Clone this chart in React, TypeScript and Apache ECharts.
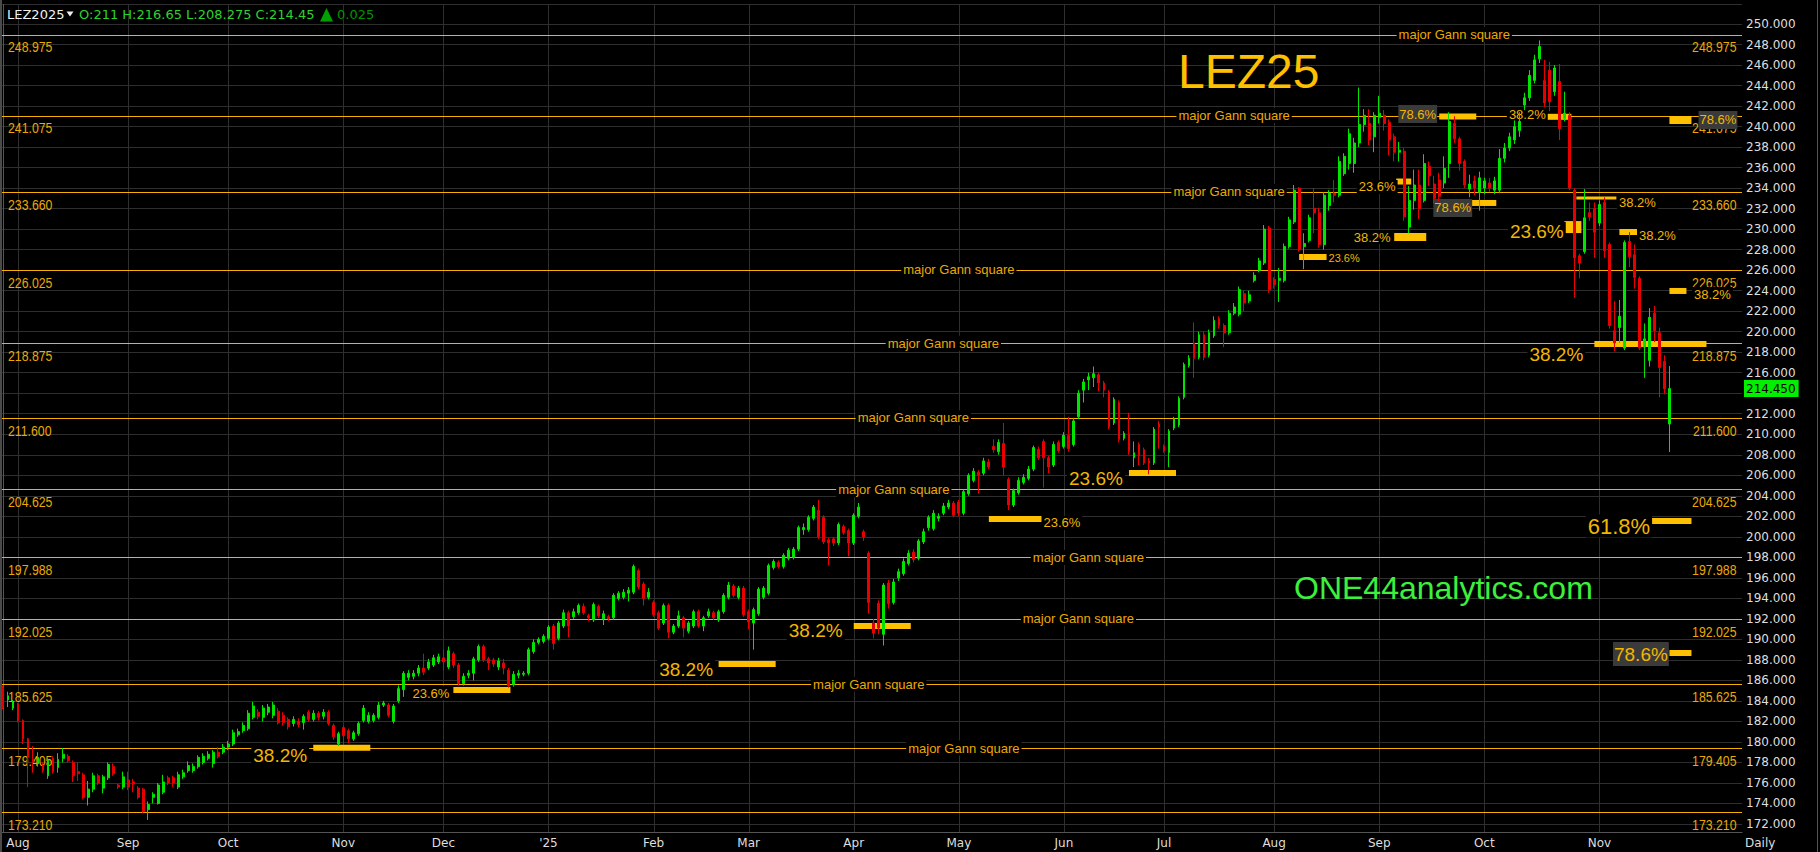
import React, { useEffect, useRef } from 'react';
import * as echarts from 'echarts';

// ---------- candles: [open, close, low, high] per trading day, grouped by month ----------
const jul24 = [
  [185.2, 183.5, 183.2, 185.5], [184.1, 184.5, 183.4, 184.9], [183.3, 183.9, 183.1, 184.1],
];
const aug24 = [
  [183.7, 182.1, 181.9, 183.8], [182.1, 180.3, 179.8, 182.2], [180.3, 178.5, 175.6, 180.4], [178.3, 178.0, 177.0, 179.6],
  [177.9, 178.5, 177.6, 179.0], [177.7, 177.2, 177.0, 178.0], [176.7, 178.2, 176.4, 178.4], [178.4, 177.1, 176.9, 178.6],
  [177.5, 178.3, 177.0, 178.9], [178.4, 178.8, 178.0, 179.4], [178.6, 178.2, 178.0, 178.8], [178.0, 176.7, 176.1, 178.2],
  [177.1, 176.9, 176.2, 178.0], [176.8, 174.6, 174.4, 177.0], [174.6, 175.4, 173.8, 176.2], [175.4, 176.7, 175.1, 177.0],
  [176.7, 176.0, 175.8, 176.9], [175.5, 176.6, 175.0, 176.8], [176.5, 177.8, 176.3, 178.0], [177.6, 176.9, 176.7, 177.9],
  [175.8, 175.6, 175.4, 175.9], [175.6, 176.6, 175.4, 177.1],
];
const sep24 = [
  [176.3, 175.6, 175.3, 177.1], [176.1, 175.9, 175.1, 176.4], [175.5, 174.6, 174.4, 175.7], [175.4, 173.2, 173.1, 175.5],
  [173.4, 173.9, 172.4, 174.2], [174.6, 174.9, 174.0, 175.1], [174.0, 175.8, 173.9, 176.0], [175.1, 176.1, 174.9, 176.8],
  [176.5, 176.0, 175.8, 176.7], [176.5, 176.0, 175.6, 176.7], [175.6, 176.8, 175.4, 177.1], [176.6, 177.0, 176.4, 177.3],
  [177.2, 177.7, 177.0, 178.1], [177.2, 177.6, 177.0, 177.9], [177.6, 178.5, 177.4, 178.7], [178.0, 178.6, 177.8, 178.9],
  [178.4, 178.8, 178.2, 179.1], [177.9, 179.0, 177.5, 179.2], [179.0, 178.6, 178.4, 179.5], [179.0, 179.5, 178.8, 179.8],
];
const oct24 = [
  [179.5, 179.8, 179.2, 180.1], [179.8, 180.9, 179.6, 181.2], [180.7, 181.0, 180.5, 181.3], [181.1, 181.6, 180.9, 181.9],
  [181.3, 182.8, 181.1, 183.1], [182.4, 183.5, 182.2, 183.9], [182.9, 182.5, 182.2, 183.2], [182.4, 183.3, 182.0, 183.6],
  [182.9, 183.4, 182.6, 183.7], [182.6, 183.6, 182.3, 183.9], [183.0, 181.9, 181.7, 183.3], [182.6, 181.9, 181.6, 182.9],
  [182.2, 181.5, 181.2, 182.4], [181.8, 182.2, 181.5, 182.5], [182.0, 181.7, 181.4, 182.3], [181.9, 182.5, 181.2, 182.7],
  [182.9, 182.2, 182.0, 183.1], [182.2, 182.8, 182.0, 183.1], [182.8, 182.4, 182.1, 183.0], [182.5, 182.9, 182.2, 183.2],
  [182.9, 181.8, 181.6, 183.1], [181.6, 180.5, 180.2, 181.8], [179.8, 180.8, 179.6, 181.0],
];
const nov24 = [
  [181.4, 180.6, 179.8, 181.6], [181.1, 180.3, 179.9, 181.3], [180.3, 180.9, 180.1, 181.1], [180.8, 181.8, 180.6, 182.0],
  [182.1, 183.3, 181.9, 183.6], [182.0, 182.6, 181.8, 182.9], [182.1, 182.6, 181.9, 182.8], [182.4, 183.6, 182.2, 183.9],
  [183.6, 183.8, 183.4, 184.0], [183.6, 182.6, 182.4, 183.8], [182.0, 183.5, 181.8, 183.7], [184.0, 185.2, 183.8, 185.5],
  [185.1, 186.7, 184.4, 186.9], [186.3, 186.7, 186.0, 187.0], [186.4, 186.7, 186.1, 187.0], [186.7, 187.2, 186.4, 187.5],
  [187.2, 186.8, 186.5, 188.6], [187.2, 187.8, 187.0, 188.1], [187.5, 188.2, 187.3, 188.5], [187.8, 188.3, 187.6, 188.6],
];
const dec24 = [
  [188.2, 187.8, 187.0, 189.0], [187.3, 188.9, 187.1, 189.3], [188.6, 187.5, 187.2, 188.8], [187.5, 185.7, 185.5, 187.7],
  [185.7, 186.4, 185.5, 186.7], [186.5, 186.7, 186.2, 187.0], [186.7, 188.1, 186.0, 188.3], [188.0, 189.3, 187.8, 189.5],
  [189.3, 188.0, 187.8, 189.5], [188.1, 187.7, 187.0, 188.3], [188.0, 187.6, 187.3, 188.2], [187.3, 187.9, 187.0, 188.2],
  [187.7, 187.2, 186.6, 188.1], [187.0, 185.5, 185.3, 187.2], [185.6, 186.6, 185.4, 186.9], [186.5, 186.7, 186.2, 187.0],
  [186.6, 186.7, 186.4, 186.9], [186.7, 189.0, 186.5, 189.2], [188.8, 189.7, 188.6, 190.0], [189.7, 190.0, 189.5, 190.2],
  [189.8, 190.3, 189.6, 190.5],
];
const jan25 = [
  [190.1, 191.2, 189.9, 191.4], [191.3, 189.6, 189.0, 191.5], [190.1, 191.6, 189.9, 191.8], [191.3, 192.6, 191.1, 192.9],
  [192.6, 191.3, 190.2, 192.8], [192.2, 192.7, 192.0, 193.0], [192.6, 193.3, 192.4, 193.5], [193.2, 192.6, 192.4, 193.5],
  [192.3, 192.1, 191.8, 192.5], [191.9, 193.4, 191.7, 193.6], [193.2, 192.3, 192.1, 193.4], [192.0, 192.5, 191.4, 192.8],
  [192.2, 192.0, 191.8, 192.4], [192.1, 194.3, 191.9, 194.5], [194.0, 194.5, 193.8, 194.7], [194.1, 194.6, 193.9, 194.9],
  [194.5, 194.8, 193.7, 195.1], [194.6, 197.1, 194.4, 197.3], [196.7, 195.1, 194.9, 196.9], [195.4, 194.0, 193.3, 195.6],
  [194.1, 194.6, 193.9, 195.0],
];
const feb25 = [
  [193.6, 192.4, 192.2, 193.8], [192.6, 191.1, 190.9, 192.8], [191.6, 193.3, 191.4, 193.5], [193.3, 190.7, 190.1, 193.5],
  [190.7, 191.3, 190.5, 191.5], [191.3, 192.3, 191.1, 192.8], [192.1, 191.1, 190.2, 192.3], [190.8, 191.6, 190.6, 191.8],
  [191.3, 192.7, 191.1, 192.9], [192.7, 191.3, 191.1, 192.9], [191.3, 192.1, 190.8, 192.3], [192.3, 192.7, 192.1, 193.0],
  [192.6, 192.1, 191.9, 192.8], [191.9, 192.7, 191.7, 192.9], [192.7, 194.3, 192.5, 194.5], [194.1, 195.3, 193.9, 195.6],
  [195.2, 194.3, 194.1, 195.4], [194.1, 195.0, 193.9, 195.2], [195.0, 192.4, 192.2, 195.2],
];
const mar25 = [
  [192.7, 191.7, 191.0, 192.9], [191.6, 192.9, 189.0, 193.1], [192.5, 194.9, 192.3, 195.1], [194.1, 195.0, 193.9, 195.2],
  [194.5, 197.2, 194.3, 197.4], [197.0, 197.6, 196.8, 197.8], [197.5, 197.1, 196.9, 197.7], [197.1, 198.2, 196.9, 198.4],
  [197.9, 198.7, 197.7, 198.9], [198.0, 198.8, 197.8, 199.0], [198.8, 200.9, 198.6, 201.1], [200.7, 200.9, 200.2, 201.3],
  [200.7, 201.9, 200.5, 202.1], [201.8, 202.9, 201.6, 203.1], [202.6, 200.0, 199.8, 203.6], [201.9, 199.5, 199.3, 202.1],
  [199.7, 199.4, 197.2, 199.9], [199.8, 199.4, 199.1, 200.0], [199.4, 201.2, 199.2, 201.4], [201.0, 200.4, 200.2, 201.2],
  [200.6, 199.4, 198.1, 200.8],
];
const apr25 = [
  [199.4, 202.1, 199.2, 202.3], [202.0, 202.9, 201.8, 203.3], [200.5, 200.0, 199.6, 200.7], [198.4, 193.6, 192.5, 198.6],
  [191.6, 190.6, 190.1, 192.0], [193.5, 191.1, 190.5, 193.8], [190.5, 195.3, 189.4, 195.5], [195.5, 193.5, 193.0, 195.8],
  [193.6, 195.6, 193.4, 195.9], [196.0, 196.6, 195.7, 196.9], [196.4, 197.6, 196.2, 197.9], [197.4, 198.4, 197.2, 198.7],
  [198.5, 197.8, 197.5, 198.8], [197.9, 199.6, 197.7, 199.8], [199.5, 200.5, 199.3, 200.8], [200.9, 201.9, 200.6, 202.1],
  [200.8, 202.3, 200.6, 202.6], [201.8, 202.0, 201.5, 202.3], [202.3, 203.0, 202.1, 203.3], [202.9, 203.3, 202.7, 203.6],
  [203.3, 202.1, 201.9, 203.5],
];
const may25 = [
  [203.4, 202.3, 202.0, 203.6], [202.3, 204.4, 202.1, 204.6], [204.2, 206.0, 204.0, 206.2], [205.5, 206.4, 205.3, 206.7],
  [206.3, 206.0, 204.2, 206.5], [206.2, 207.4, 206.0, 207.7], [207.3, 206.8, 206.6, 207.6], [208.8, 208.5, 208.2, 209.5],
  [208.3, 209.2, 208.0, 209.5], [209.1, 206.8, 206.0, 211.1], [205.6, 203.1, 202.6, 205.8], [203.1, 204.5, 202.9, 204.7],
  [204.3, 205.5, 204.1, 205.8], [205.3, 205.8, 205.1, 206.1], [205.7, 206.6, 205.5, 206.9], [206.6, 208.7, 206.4, 208.9],
  [208.5, 207.7, 207.5, 208.8], [209.3, 207.7, 204.8, 209.5], [207.7, 206.8, 206.2, 207.9], [207.0, 209.0, 206.8, 209.3],
  [209.2, 208.4, 208.2, 209.4],
];
const jun25 = [
  [208.8, 209.9, 208.6, 210.2], [209.9, 208.6, 208.3, 211.7], [209.0, 211.3, 208.8, 211.6], [211.7, 214.0, 211.5, 214.3],
  [214.3, 215.1, 213.1, 215.4], [215.3, 215.6, 214.3, 216.0], [215.5, 215.9, 214.6, 216.6], [215.8, 215.0, 214.2, 216.0],
  [215.0, 214.3, 213.6, 215.2], [214.1, 210.7, 210.5, 214.3], [211.1, 213.4, 210.9, 213.6], [213.1, 209.5, 209.2, 213.3],
  [209.6, 210.1, 209.4, 210.3], [210.1, 208.3, 208.0, 212.1], [207.7, 208.2, 206.8, 209.3], [209.0, 207.9, 207.0, 209.2],
  [208.5, 207.2, 207.0, 208.7], [207.4, 207.2, 206.1, 207.7], [207.2, 210.5, 207.0, 210.7], [211.0, 210.7, 208.6, 211.3],
];
const jul25 = [
  [208.8, 208.4, 208.2, 209.0], [208.2, 210.3, 206.8, 210.5], [210.6, 211.5, 210.4, 211.7], [210.9, 213.5, 210.7, 213.7],
  [213.6, 216.8, 213.4, 217.0], [216.7, 217.4, 216.5, 217.7], [218.9, 217.4, 215.5, 220.9], [217.5, 219.7, 217.3, 220.0],
  [219.7, 217.5, 217.2, 220.0], [217.7, 219.9, 217.5, 220.2], [219.6, 221.1, 219.4, 221.5], [221.3, 220.6, 220.3, 221.5],
  [220.6, 219.9, 218.5, 220.8], [219.9, 221.8, 219.7, 222.1], [221.8, 222.4, 221.6, 222.8], [221.7, 224.1, 221.5, 224.4],
  [223.7, 222.8, 222.0, 224.0], [223.0, 223.6, 222.8, 224.0], [225.0, 225.5, 224.8, 225.8], [226.0, 226.9, 225.8, 227.2],
  [226.7, 230.0, 226.5, 230.4], [230.1, 224.1, 223.8, 230.3],
];
const aug25 = [
  [225.1, 224.6, 224.2, 225.3], [225.0, 225.2, 222.9, 226.2], [225.0, 228.3, 224.8, 228.6], [228.3, 230.9, 228.1, 231.2],
  [230.7, 233.8, 230.5, 234.3], [234.0, 228.0, 227.8, 234.1], [228.3, 228.6, 226.1, 229.6], [228.9, 231.1, 228.7, 231.4],
  [232.0, 231.6, 229.6, 234.0], [231.6, 228.5, 228.2, 232.1], [228.5, 233.3, 228.0, 233.6], [232.3, 233.5, 231.8, 233.8],
  [233.5, 233.3, 232.6, 234.8], [233.3, 236.6, 233.1, 237.1], [235.4, 237.1, 235.2, 237.4], [236.4, 239.3, 235.8, 239.8],
  [236.4, 238.4, 235.5, 238.9], [238.4, 240.2, 238.0, 243.8], [240.2, 241.1, 239.5, 241.7], [240.3, 238.7, 238.2, 241.7],
  [239.0, 241.1, 237.5, 241.4],
];
const sep25 = [
  [240.9, 241.3, 240.3, 243.0], [241.1, 240.3, 239.6, 241.6], [240.4, 238.7, 237.2, 240.7], [239.0, 237.5, 236.6, 239.3],
  [237.5, 237.7, 236.6, 238.5], [237.6, 231.2, 230.8, 237.9], [230.2, 232.8, 229.6, 234.2], [232.8, 234.3, 231.9, 235.8],
  [234.3, 232.0, 231.0, 235.8], [232.8, 236.4, 232.6, 237.3], [236.1, 235.2, 234.2, 236.6], [234.4, 233.0, 232.5, 235.2],
  [234.8, 233.2, 232.7, 235.5], [234.5, 235.9, 234.0, 237.1], [236.4, 240.5, 235.0, 241.4], [240.3, 238.8, 238.4, 241.0],
  [238.8, 236.4, 235.7, 239.0], [236.6, 234.3, 234.0, 236.8], [233.9, 234.4, 233.1, 235.3], [234.7, 234.0, 233.3, 235.2],
  [233.6, 235.0, 231.8, 235.6],
];
const oct25 = [
  [234.0, 234.7, 233.4, 235.0], [234.5, 234.0, 233.6, 235.0], [233.8, 234.7, 233.4, 235.1], [233.8, 236.9, 233.5, 237.8],
  [236.9, 237.9, 236.5, 238.4], [237.9, 239.0, 237.6, 239.4], [238.7, 240.0, 238.3, 240.6], [239.6, 240.5, 239.0, 241.4],
  [242.1, 242.8, 241.6, 243.3], [242.8, 245.0, 242.5, 245.5], [244.5, 246.5, 244.2, 247.0], [246.6, 247.8, 246.2, 248.4],
  [244.5, 242.3, 241.9, 246.5], [245.5, 242.4, 241.5, 246.3], [243.4, 245.7, 243.0, 246.0], [244.4, 239.8, 238.7, 246.1],
  [240.8, 241.3, 240.5, 243.4], [241.1, 234.0, 233.8, 241.4], [233.8, 227.2, 223.3, 234.0], [227.4, 226.7, 225.2, 227.6],
  [227.8, 231.1, 227.6, 233.9], [231.6, 231.2, 230.8, 232.6], [232.0, 229.7, 227.2, 232.6],
];
const nov25 = [
  [230.6, 232.4, 230.3, 232.8], [232.6, 227.9, 227.2, 233.1], [228.5, 220.6, 220.3, 228.7], [220.1, 218.9, 218.1, 223.0],
  [220.4, 221.5, 218.9, 223.1], [218.4, 228.7, 218.2, 228.9], [228.8, 227.3, 226.3, 229.7], [227.5, 225.3, 224.2, 228.5],
  [225.2, 218.4, 218.2, 225.4], [218.5, 219.3, 215.5, 220.8], [217.2, 221.4, 216.6, 222.3], [221.8, 220.1, 219.0, 222.5],
  [219.9, 216.5, 213.6, 220.4], [217.1, 214.425, 213.9, 217.7], [211.0, 214.45, 208.275, 216.65],
];

const months = [jul24, aug24, sep24, oct24, nov24, dec24, jan25, feb25, mar25, apr25, may25, jun25, jul25, aug25, sep25, oct25, nov25];
const monthLabels = ['', 'Aug', 'Sep', 'Oct', 'Nov', 'Dec', "'25", 'Feb', 'Mar', 'Apr', 'May', 'Jun', 'Jul', 'Aug', 'Sep', 'Oct', 'Nov'];
const emptySlotsAfter = 14;

// ---------- Gann square levels ----------
const gannLevels = [248.975, 241.075, 233.66, 226.025, 218.875, 211.6, 204.625, 197.988, 192.025, 185.625, 179.405, 173.21];
// where the "major Gann square" tag sits on each level (bar-index units), null = no tag
const gannTagAt: (number | null)[] = [290, 246, 245, 191, 187.9, 181.9, 178, 216.9, 214.9, 173, 192, null];

// ---------- retracement markers (bar-index units, price) ----------
const retraceBars = [
  { from: 62, to: 73.4, price: 179.44, kind: 'std' },
  { from: 90, to: 101.4, price: 185.06, kind: 'std' },
  { from: 143, to: 154.4, price: 187.6, kind: 'std' },
  { from: 170, to: 181.4, price: 191.3, kind: 'std' },
  { from: 197, to: 208, price: 201.74, kind: 'std' },
  { from: 225, to: 234.4, price: 206.22, kind: 'std' },
  { from: 259, to: 265.2, price: 227.28, kind: 'std' },
  { from: 278, to: 284.4, price: 229.23, kind: 'thick' },
  { from: 278.4, to: 281.4, price: 234.64, kind: 'std' },
  { from: 287, to: 294.4, price: 240.98, kind: 'std' },
  { from: 293.4, to: 298.4, price: 232.55, kind: 'std' },
  { from: 308.4, to: 313.4, price: 240.95, kind: 'std' },
  { from: 312, to: 315.4, price: 230.2, kind: 'block' },
  { from: 314.4, to: 322.4, price: 233.03, kind: 'thin' },
  { from: 323, to: 327, price: 229.72, kind: 'std' },
  { from: 333, to: 337.4, price: 240.64, kind: 'thick' },
  { from: 333, to: 336.4, price: 223.97, kind: 'std' },
  { from: 318, to: 340.4, price: 218.8, kind: 'std' },
  { from: 324, to: 337.4, price: 201.54, kind: 'std' },
  { from: 333, to: 337.4, price: 188.67, kind: 'std' },
];
const pctLabels = [
  { text: '38.2%', at: 55.4, price: 178.72, kind: 'lg' },
  { text: '23.6%', at: 85.5, price: 184.77, kind: 'md' },
  { text: '38.2%', at: 136.5, price: 187.11, kind: 'lg' },
  { text: '38.2%', at: 162.4, price: 190.91, kind: 'lg' },
  { text: '23.6%', at: 211.6, price: 201.35, kind: 'md' },
  { text: '23.6%', at: 218.4, price: 205.64, kind: 'lg' },
  { text: '23.6%', at: 268, price: 227.18, kind: 'sm' },
  { text: '38.2%', at: 273.6, price: 229.23, kind: 'md' },
  { text: '23.6%', at: 274.6, price: 234.11, kind: 'md' },
  { text: '78.6%', at: 282.7, price: 241.22, kind: 'box' },
  { text: '78.6%', at: 289.7, price: 232.06, kind: 'box' },
  { text: '38.2%', at: 304.6, price: 241.13, kind: 'md' },
  { text: '23.6%', at: 306.5, price: 229.72, kind: 'lg' },
  { text: '38.2%', at: 326.6, price: 232.64, kind: 'md' },
  { text: '38.2%', at: 330.6, price: 229.33, kind: 'md' },
  { text: '78.6%', at: 342.7, price: 240.64, kind: 'box' },
  { text: '38.2%', at: 341.6, price: 223.67, kind: 'md' },
  { text: '38.2%', at: 310.4, price: 217.82, kind: 'lg' },
  { text: '61.8%', at: 322.9, price: 201.05, kind: 'xl' },
  { text: '78.6%', at: 327.3, price: 188.57, kind: 'lgbox' },
];

const symbol = 'LEZ2025';
const title = 'LEZ25';
const watermark = 'ONE44analytics.com';

// ---------- styles ----------
const UP = '#00e400';
const DOWN = '#e80000';
const GRID = '#2e2e2e';
const GANN = '#f5b000';
const GANN_TEXT = '#eca900';
const BAR = '#ffc000';
const PCT = '#f2b600';
const BOX = '#3a3a3a';
const AXIS_TEXT = '#dedede';
const BAR_H: Record<string, number> = { std: 6, thick: 8, block: 12, thin: 3 };
const PCT_STYLE: Record<string, { size: number; box: boolean }> = {
  sm: { size: 11, box: false },
  md: { size: 13, box: false },
  lg: { size: 19, box: false },
  xl: { size: 22, box: false },
  box: { size: 13, box: true },
  lgbox: { size: 19, box: true },
};

export default function App() {
  const ref = useRef<HTMLDivElement>(null);

  useEffect(() => {
    document.body.style.margin = '0';
    document.body.style.background = '#000';
    const chart = echarts.init(ref.current!, null, { renderer: 'svg' });

    const candles = months.flat();
    const monthStarts: number[] = [];
    const labelAt: Record<number, string> = {};
    let acc = 0;
    months.forEach((m, k) => {
      if (monthLabels[k]) {
        monthStarts.push(acc);
        labelAt[acc] = monthLabels[k];
      }
      acc += m.length;
    });
    const slots = candles.length + emptySlotsAfter;
    const categories = Array.from({ length: slots }, (_, i) => String(i));
    const last = candles[candles.length - 1];
    const prev = candles[candles.length - 2];
    const change = (last[1] - prev[1]).toFixed(3);

    const option: any = {
      animation: false,
      backgroundColor: '#000',
      grid: { left: 0.5, right: 78, top: 4.5, bottom: 20, containLabel: false },
      xAxis: [
        {
          type: 'category',
          data: categories,
          boundaryGap: true,
          axisLine: { show: true, lineStyle: { color: '#555' } },
          axisTick: { show: false },
          splitLine: { show: false },
          axisLabel: {
            color: AXIS_TEXT,
            fontSize: 12,
            fontFamily: 'DejaVu Sans',
            margin: 5,
            interval: (idx: number) => labelAt[idx] !== undefined,
            formatter: (v: string) => labelAt[Number(v)] || '',
          },
        },
        { type: 'value', show: false, min: -0.5, max: slots - 0.5 },
      ],
      yAxis: {
        type: 'value',
        position: 'right',
        min: 171.22,
        max: 251.9,
        splitNumber: 40,
        axisLine: { show: true, lineStyle: { color: '#555' } },
        axisTick: { show: false },
        splitLine: { show: true, lineStyle: { color: GRID, width: 1 } },
        axisLabel: {
          color: AXIS_TEXT,
          fontSize: 12,
          fontFamily: 'DejaVu Sans',
          margin: 4,
          showMinLabel: false,
          showMaxLabel: false,
          formatter: (v: number) => (Math.abs(v - 214) < 0.01 ? '' : v.toFixed(3)),
        },
      },
      series: [
        // month grid lines
        {
          type: 'custom',
          xAxisIndex: 1,
          z: 1,
          silent: true,
          data: monthStarts.map((i) => [i, 200]),
          renderItem: (params: any, api: any) => {
            const cs = params.coordSys;
            const x = Math.round(api.coord([api.value(0), 200])[0]) + 0.5;
            return { type: 'line', shape: { x1: x, y1: cs.y, x2: x, y2: cs.y + cs.height }, style: { stroke: GRID, lineWidth: 1 } };
          },
        },
        // Gann lines
        {
          type: 'custom',
          xAxisIndex: 1,
          z: 2,
          silent: true,
          data: gannLevels.map((v) => [0, v]),
          renderItem: (params: any, api: any) => {
            const cs = params.coordSys;
            const y = Math.round(api.coord([0, api.value(1)])[1]) + 0.5;
            return { type: 'line', shape: { x1: cs.x, y1: y, x2: cs.x + cs.width, y2: y }, style: { stroke: GANN, lineWidth: 1 } };
          },
        },
        // level value labels at both edges
        {
          type: 'custom',
          xAxisIndex: 1,
          z: 3,
          silent: true,
          data: gannLevels.map((v) => [0, v]),
          renderItem: (params: any, api: any) => {
            const cs = params.coordSys;
            const v = api.value(1);
            const y = api.coord([0, v])[1] + 13;
            const txt = Number(v).toFixed(3);
            const st = { text: txt, fill: GANN_TEXT, font: '15px "Liberation Sans"', verticalAlign: 'middle' };
            return {
              type: 'group',
              children: [
                { type: 'text', x: cs.x + 7.5, y, scaleX: 0.82, style: { ...st, align: 'left' } },
                { type: 'text', x: cs.x + cs.width - 5.5, y, scaleX: 0.82, style: { ...st, align: 'right' } },
              ],
            };
          },
        },
        // retracement bars
        {
          type: 'custom',
          xAxisIndex: 1,
          z: 4,
          silent: true,
          data: retraceBars.map((b) => [b.from, b.price]),
          renderItem: (params: any, api: any) => {
            const b = retraceBars[params.dataIndex];
            const p1 = api.coord([b.from, b.price]);
            const p2 = api.coord([b.to, b.price]);
            const h = BAR_H[b.kind];
            return { type: 'rect', shape: { x: p1[0], y: p1[1] - h / 2, width: p2[0] - p1[0], height: h }, style: { fill: BAR } };
          },
        },
        // "major Gann square" tags
        {
          type: 'custom',
          xAxisIndex: 1,
          z: 5,
          silent: true,
          data: gannLevels.map((v, k) => [gannTagAt[k] ?? -100, v]),
          renderItem: (params: any, api: any) => {
            const at = gannTagAt[params.dataIndex];
            if (at === null) return null;
            const p = api.coord([at, api.value(1)]);
            return {
              type: 'text',
              x: p[0],
              y: p[1],
              style: {
                text: 'major Gann square',
                fill: GANN_TEXT,
                font: '13px "Liberation Sans"',
                align: 'center',
                verticalAlign: 'middle',
                backgroundColor: '#000',
                padding: [1, 2, 1, 2],
              },
            };
          },
        },
        // percentage labels
        {
          type: 'custom',
          xAxisIndex: 1,
          z: 6,
          silent: true,
          data: pctLabels.map((a) => [a.at, a.price]),
          renderItem: (params: any, api: any) => {
            const a = pctLabels[params.dataIndex];
            const st = PCT_STYLE[a.kind];
            const p = api.coord([a.at, a.price]);
            return {
              type: 'text',
              x: p[0],
              y: p[1],
              style: {
                text: a.text,
                fill: PCT,
                font: `${st.size}px "Liberation Sans"`,
                align: 'center',
                verticalAlign: 'middle',
                backgroundColor: st.box ? BOX : '#000',
                padding: st.box ? [3, 1, 2, 1] : [1, 2, 0, 2],
              },
            };
          },
        },
        // candles
        {
          type: 'candlestick',
          xAxisIndex: 0,
          z: 10,
          barWidth: 2.4,
          data: candles,
          itemStyle: { color: UP, color0: DOWN, borderColor: UP, borderColor0: DOWN, borderWidth: 1 },
        },
        // last price tag
        {
          type: 'custom',
          xAxisIndex: 1,
          z: 20,
          silent: true,
          data: [[candles.length - 1, last[1]]],
          renderItem: (params: any, api: any) => {
            const cs = params.coordSys;
            const p = api.coord([api.value(0), api.value(1)]);
            return {
              type: 'text',
              x: cs.x + cs.width + 2,
              y: p[1],
              style: {
                text: Number(api.value(1)).toFixed(3),
                fill: '#000',
                font: '12px "DejaVu Sans"',
                align: 'left',
                verticalAlign: 'middle',
                backgroundColor: '#00f000',
                padding: [3, 3, 2, 2],
              },
            };
          },
        },
      ],
      graphic: [
        { type: 'rect', shape: { x: 0, y: 0, width: 2, height: 852 }, style: { fill: '#4a4a4a' }, silent: true, z: 50 },
        { type: 'rect', shape: { x: 1817, y: 0, width: 1, height: 852 }, style: { fill: '#555' }, silent: true, z: 50 },
        { type: 'text', x: 7, y: 14, style: { text: symbol, fill: '#f2f2f2', font: '13px "DejaVu Sans"', verticalAlign: 'middle' }, z: 50 },
        { type: 'polygon', shape: { points: [[66.5, 11.5], [73.5, 11.5], [70, 16.5]] }, style: { fill: '#eeeeee' }, z: 50 },
        {
          type: 'text',
          x: 79,
          y: 14,
          style: { text: `O:${last[0]} H:${last[3]} L:${last[2]} C:${last[1]}`, fill: '#2cd42c', font: '13px "DejaVu Sans"', verticalAlign: 'middle' },
          z: 50,
        },
        { type: 'polygon', shape: { points: [[320, 21.5], [333, 21.5], [326.5, 8]] }, style: { fill: '#00a000' }, z: 50 },
        { type: 'text', x: 337, y: 14, style: { text: change, fill: '#009400', font: '13px "DejaVu Sans"', verticalAlign: 'middle' }, z: 50 },
        { type: 'text', x: 1178, y: 71, style: { text: title, fill: '#ffc000', font: '48px "Liberation Sans"', verticalAlign: 'middle' }, z: 50 },
        { type: 'text', x: 1294, y: 588, style: { text: watermark, fill: '#3cf03c', font: '32px "Liberation Sans"', verticalAlign: 'middle' }, z: 50 },
        { type: 'text', x: 1745, y: 843, style: { text: 'Daily', fill: AXIS_TEXT, font: '12px "DejaVu Sans"', verticalAlign: 'middle' }, z: 50 },
      ],
    };

    chart.setOption(option);
    return () => chart.dispose();
  }, []);

  return <div ref={ref} style={{ width: 1820, height: 852, background: '#000' }} />;
}
